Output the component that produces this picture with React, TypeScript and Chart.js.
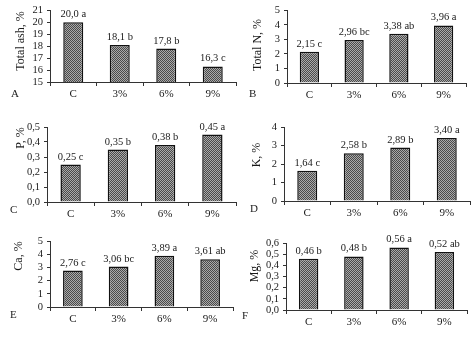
import React, { useEffect, useRef } from "react";
import { Chart, registerables } from "chart.js";
Chart.register(...registerables);

const categories = ["C", "3%", "6%", "9%"];

const ashValues = [20.0, 18.1, 17.8, 16.3];
const ashLetters = ["a", "b", "b", "c"];
const nValues = [2.15, 2.96, 3.38, 3.96];
const nLetters = ["c", "bc", "ab", "a"];
const pValues = [0.25, 0.35, 0.38, 0.45];
const pLetters = ["c", "b", "b", "a"];
const kValues = [1.64, 2.58, 2.89, 3.4];
const kLetters = ["c", "b", "b", "a"];
const caValues = [2.76, 3.06, 3.89, 3.61];
const caLetters = ["c", "bc", "a", "ab"];
const mgValues = [0.46, 0.48, 0.56, 0.52];
const mgLetters = ["b", "b", "a", "ab"];

const W = 237;
const H = 113;
const XH = 20;
const SERIF = "'Liberation Serif', 'Times New Roman', serif";
const TEXT = "#1a1a1a";

type Panel = {
  id: string;
  title: string;
  values: number[];
  letters: string[];
  dec: number;
  min: number;
  max: number;
  step: number;
  tickDec: number;
  x: number;
  y: number;
  area: { l: number; r: number; t: number; b: number };
  titlePos: { x: number; y: number };
  letterPos: { x: number; y: number };
};

const panels: Panel[] = [
  { id: "A", title: "Total ash, %", values: ashValues, letters: ashLetters, dec: 1, min: 15, max: 21, step: 1, tickDec: 0,
    x: 0, y: 0, area: { l: 50, r: 236, t: 9, b: 82 }, titlePos: { x: 21, y: 41 }, letterPos: { x: 11, y: 94 } },
  { id: "B", title: "Total N, %", values: nValues, letters: nLetters, dec: 2, min: 0, max: 5, step: 1, tickDec: 0,
    x: 237, y: 0, area: { l: 50, r: 229, t: 10, b: 83 }, titlePos: { x: 21, y: 45 }, letterPos: { x: 12, y: 94 } },
  { id: "C", title: "P, %", values: pValues, letters: pLetters, dec: 2, min: 0, max: 0.5, step: 0.1, tickDec: 1,
    x: 0, y: 113, area: { l: 47, r: 236, t: 14, b: 89 }, titlePos: { x: 21, y: 25 }, letterPos: { x: 10, y: 97 } },
  { id: "D", title: "K, %", values: kValues, letters: kLetters, dec: 2, min: 0, max: 4, step: 1, tickDec: 0,
    x: 237, y: 113, area: { l: 47, r: 233, t: 14, b: 88 }, titlePos: { x: 20, y: 42 }, letterPos: { x: 13, y: 96 } },
  { id: "E", title: "Ca, %", values: caValues, letters: caLetters, dec: 2, min: 0, max: 5, step: 1, tickDec: 0,
    x: 0, y: 226, area: { l: 50, r: 233, t: 15, b: 81 }, titlePos: { x: 19, y: 30 }, letterPos: { x: 10, y: 89 } },
  { id: "F", title: "Mg, %", values: mgValues, letters: mgLetters, dec: 2, min: 0, max: 0.6, step: 0.1, tickDec: 1,
    x: 237, y: 226, area: { l: 49, r: 230, t: 17, b: 84 }, titlePos: { x: 18, y: 40 }, letterPos: { x: 5, y: 90 } },
];

function makePattern(): CanvasPattern | string {
  const c = document.createElement("canvas");
  c.width = 2;
  c.height = 2;
  const g = c.getContext("2d");
  if (!g) return "#888";
  g.fillStyle = "#aaaaaa";
  g.fillRect(0, 0, 2, 2);
  g.fillStyle = "#4a4a4a";
  g.fillRect(0, 0, 1, 1);
  g.fillRect(1, 1, 1, 1);
  const p = g.createPattern(c, "repeat");
  return p || "#888";
}

const fmt = (v: number, d: number) => v.toFixed(d).replace(".", ",");

function PanelChart({ panel }: { panel: Panel }) {
  const ref = useRef<HTMLCanvasElement | null>(null);
  useEffect(() => {
    if (!ref.current) return;
    const pattern = makePattern();
    const p = panel;
    const decor = {
      id: "decor" + p.id,
      afterDatasetsDraw(chart: any) {
        const ctx = chart.ctx as CanvasRenderingContext2D;
        const meta = chart.getDatasetMeta(0);
        ctx.save();
        ctx.fillStyle = TEXT;
        ctx.font = `10.5px ${SERIF}`;
        ctx.textAlign = "center";
        ctx.textBaseline = "alphabetic";
        meta.data.forEach((bar: any, i: number) => {
          const label = fmt(p.values[i], p.dec) + " " + p.letters[i];
          ctx.fillText(label, bar.x, bar.y - 5);
        });
        ctx.save();
        ctx.translate(p.titlePos.x, p.titlePos.y);
        ctx.rotate(-Math.PI / 2);
        ctx.font = `12px ${SERIF}`;
        ctx.textBaseline = "middle";
        ctx.textAlign = "center";
        ctx.fillText(p.title, 0, 0);
        ctx.restore();
        ctx.font = `11px ${SERIF}`;
        ctx.textAlign = "left";
        ctx.textBaseline = "middle";
        ctx.fillText(p.id, p.letterPos.x, p.letterPos.y);
        ctx.restore();
      },
    };
    const chart = new Chart(ref.current, {
      type: "bar",
      data: {
        labels: categories,
        datasets: [
          {
            data: p.values,
            backgroundColor: pattern as any,
            borderColor: "#111",
            borderWidth: 1.5,
            barPercentage: 0.43,
            categoryPercentage: 1,
          },
        ],
      },
      options: {
        responsive: false,
        animation: false,
        events: [],
        layout: {
          padding: { left: 0, right: W - p.area.r, top: p.area.t, bottom: H - p.area.b - XH },
        },
        plugins: { legend: { display: false }, tooltip: { enabled: false }, title: { display: false } },
        scales: {
          x: {
            grid: { display: true, drawOnChartArea: false, offset: true, tickLength: 4, color: "#333", lineWidth: 1 },
            border: { display: true, color: "#333", width: 1 },
            ticks: { color: TEXT, font: { family: SERIF, size: 11 }, padding: 2, maxRotation: 0, autoSkip: false },
            afterFit: (s: any) => {
              s.height = XH;
            },
          },
          y: {
            min: p.min,
            max: p.max,
            grid: { display: true, drawOnChartArea: false, tickLength: 3, color: "#333", lineWidth: 1 },
            border: { display: true, color: "#333", width: 1 },
            ticks: {
              stepSize: p.step,
              autoSkip: false,
              color: TEXT,
              font: { family: SERIF, size: 10.5 },
              padding: 4,
              callback: (v: any) => fmt(Number(v), p.tickDec),
            },
            afterFit: (s: any) => {
              s.width = p.area.l;
            },
          },
        },
      },
      plugins: [decor],
    });
    return () => chart.destroy();
  }, [panel]);
  return (
    <canvas
      ref={ref}
      width={W}
      height={H}
      style={{ position: "absolute", left: panel.x, top: panel.y, width: W, height: H }}
    />
  );
}

export default function App() {
  return (
    <div style={{ position: "absolute", left: 0, top: 0, width: 474, height: 340, background: "#fff" }}>
      {panels.map((p) => (
        <PanelChart key={p.id} panel={p} />
      ))}
    </div>
  );
}
